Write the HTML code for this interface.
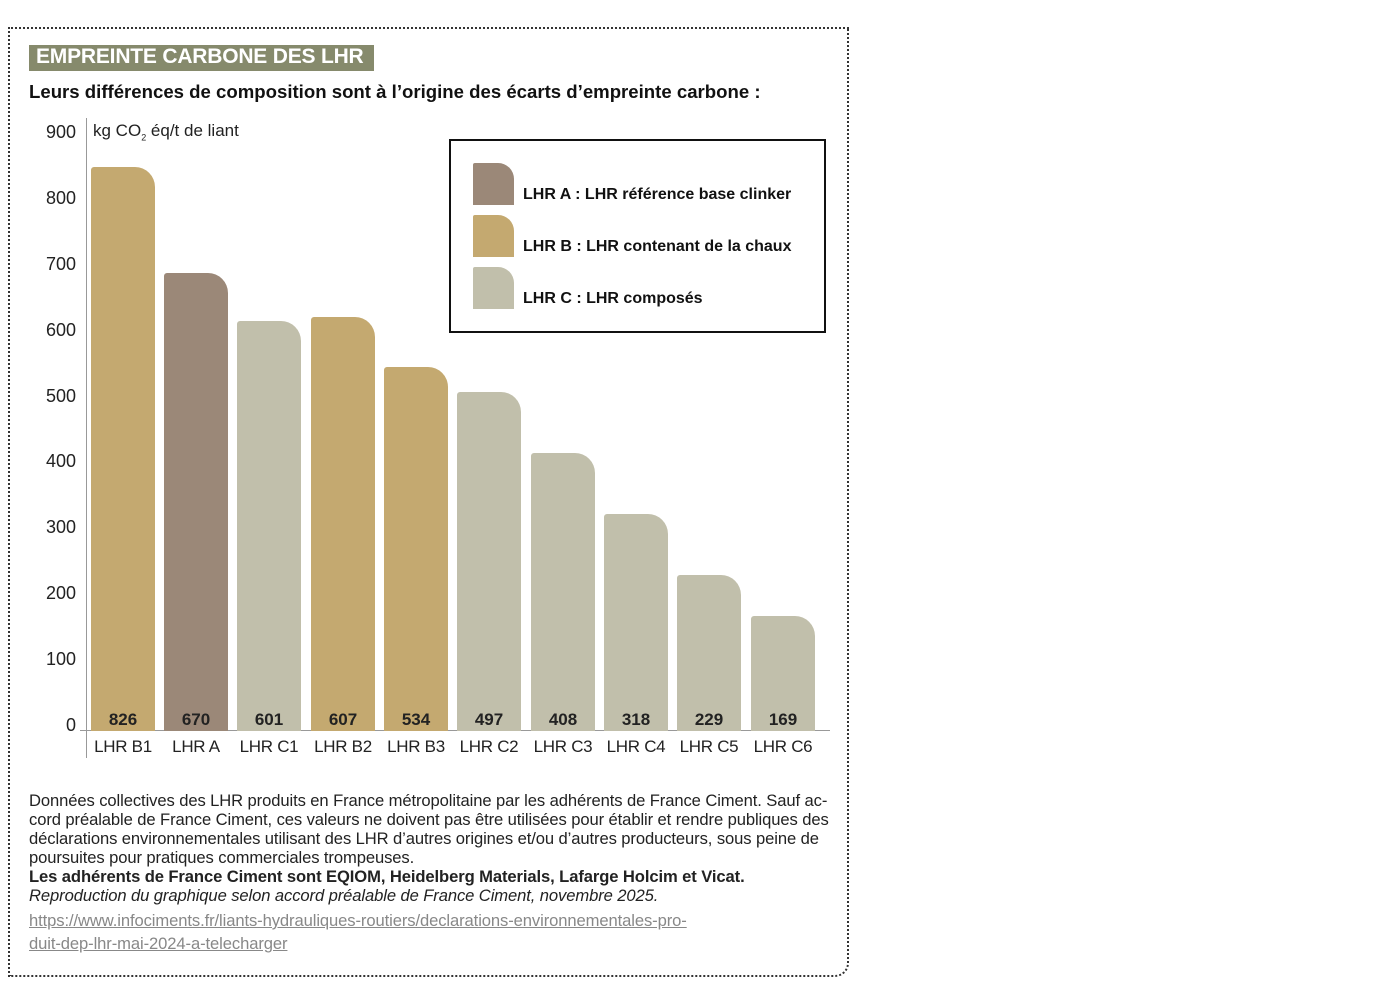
<!DOCTYPE html>
<html><head><meta charset="utf-8"><style>
body{margin:0;background:#fff;width:1392px;height:1000px;position:relative;font-family:"Liberation Sans",sans-serif;overflow:hidden}
.a{position:absolute}
.bar{position:absolute;width:64px;bottom:269px;border-radius:3px 20px 0 0}
.v{position:absolute;width:64px;text-align:center;top:710px;font-size:17px;font-weight:bold;color:#222}
.l{position:absolute;width:74px;text-align:center;top:737px;font-size:17px;color:#222;letter-spacing:-0.3px}
.t{position:absolute;left:30px;font-size:18px;color:#222;text-align:right;width:46px}
.sw{position:absolute;left:473px;width:41px;height:42px;border-radius:2px 16px 0 0}
.lg{position:absolute;left:523px;font-size:16px;font-weight:bold;color:#111}
.f{position:absolute;left:29px;font-size:16.6px;color:#222;line-height:19px;width:820px;white-space:nowrap;letter-spacing:-0.1px}
</style></head><body>
<div class="a" style="left:8px;top:27px;width:837px;height:946px;border:2px dotted #333;border-bottom-right-radius:14px"></div>
<div class="a" style="left:29px;top:45px;width:345px;height:26px;background:#868a6c"></div>
<div class="a" style="left:36px;top:45px;font-size:21px;font-weight:bold;color:#fff;letter-spacing:-0.2px">EMPREINTE CARBONE DES LHR</div>
<div class="a" style="left:29px;top:81px;font-size:18.6px;font-weight:bold;color:#111">Leurs différences de composition sont à l’origine des écarts d’empreinte carbone :</div>
<div class="a" style="left:86px;top:118px;width:1px;height:640px;background:#999"></div>
<div class="a" style="left:80px;top:730px;width:750px;height:1px;background:#999"></div>
<div class="a" style="left:93px;top:121px;font-size:17px;color:#222">kg CO<sub style="font-size:9px">2</sub> éq/t de liant</div>
<div class="t" style="top:122px">900</div><div class="t" style="top:188px">800</div><div class="t" style="top:254px">700</div><div class="t" style="top:320px">600</div><div class="t" style="top:386px">500</div><div class="t" style="top:451px">400</div><div class="t" style="top:517px">300</div><div class="t" style="top:583px">200</div><div class="t" style="top:649px">100</div><div class="t" style="top:715px">0</div>
<div class="bar" style="left:91px;height:564px;background:#c4a970"></div>
<div class="bar" style="left:164px;height:458px;background:#9b8878"></div>
<div class="bar" style="left:237px;height:410px;background:#c1bfab"></div>
<div class="bar" style="left:311px;height:414px;background:#c4a970"></div>
<div class="bar" style="left:384px;height:364px;background:#c4a970"></div>
<div class="bar" style="left:457px;height:339px;background:#c1bfab"></div>
<div class="bar" style="left:531px;height:278px;background:#c1bfab"></div>
<div class="bar" style="left:604px;height:217px;background:#c1bfab"></div>
<div class="bar" style="left:677px;height:156px;background:#c1bfab"></div>
<div class="bar" style="left:751px;height:115px;background:#c1bfab"></div>
<div class="v" style="left:91px">826</div><div class="v" style="left:164px">670</div><div class="v" style="left:237px">601</div><div class="v" style="left:311px">607</div><div class="v" style="left:384px">534</div><div class="v" style="left:457px">497</div><div class="v" style="left:531px">408</div><div class="v" style="left:604px">318</div><div class="v" style="left:677px">229</div><div class="v" style="left:751px">169</div>
<div class="l" style="left:86px">LHR B1</div><div class="l" style="left:159px">LHR A</div><div class="l" style="left:232px">LHR C1</div><div class="l" style="left:306px">LHR B2</div><div class="l" style="left:379px">LHR B3</div><div class="l" style="left:452px">LHR C2</div><div class="l" style="left:526px">LHR C3</div><div class="l" style="left:599px">LHR C4</div><div class="l" style="left:672px">LHR C5</div><div class="l" style="left:746px">LHR C6</div>
<div class="a" style="left:449px;top:139px;width:373px;height:190px;border:2px solid #111"></div>
<div class="sw" style="top:163px;background:#9b8878"></div><div class="lg" style="top:186px">LHR A : LHR référence base clinker</div>
<div class="sw" style="top:215px;background:#c4a970"></div><div class="lg" style="top:238px">LHR B : LHR contenant de la chaux</div>
<div class="sw" style="top:267px;background:#c1bfab"></div><div class="lg" style="top:290px">LHR C : LHR composés</div>
<div class="f" style="top:791px">Données collectives des LHR produits en France métropolitaine par les adhérents de France Ciment. Sauf ac-<br>cord préalable de France Ciment, ces valeurs ne doivent pas être utilisées pour établir et rendre publiques des<br>déclarations environnementales utilisant des LHR d’autres origines et/ou d’autres producteurs, sous peine de<br>poursuites pour pratiques commerciales trompeuses.<br><b>Les adhérents de France Ciment sont EQIOM, Heidelberg Materials, Lafarge Holcim et Vicat.</b><br><i>Reproduction du graphique selon accord préalable de France Ciment, novembre 2025.</i></div>
<div class="f" style="top:909px;color:#888;text-decoration:underline;line-height:23px;font-size:16.6px">https://www.infociments.fr/liants-hydrauliques-routiers/declarations-environnementales-pro-<br>duit-dep-lhr-mai-2024-a-telecharger</div>
</body></html>
